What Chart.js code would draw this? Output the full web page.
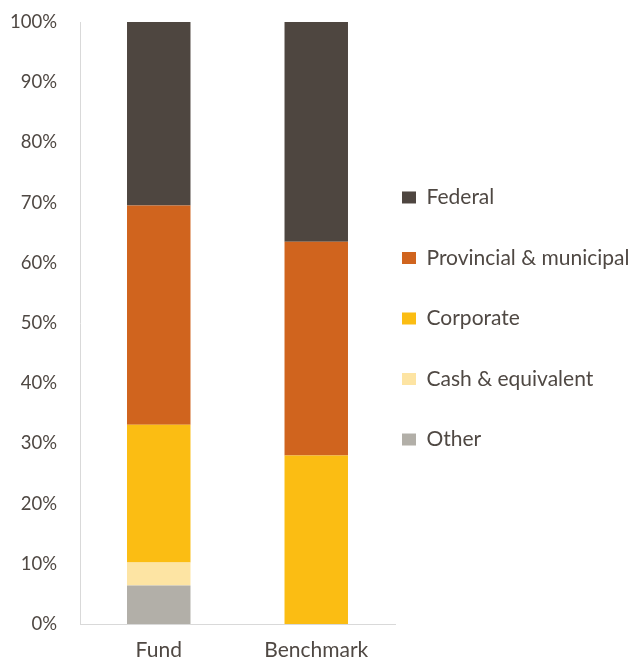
<!DOCTYPE html>
<html>
<head>
<meta charset="utf-8">
<script src="https://cdn.jsdelivr.net/npm/chart.js@4"></script>
<style>
  html, body { margin: 0; padding: 0; background: #fff; }
  #wrap { width: 630px; height: 661px; position: relative; }
</style>
</head>
<body>
<div id="wrap"><canvas id="chart"></canvas></div>
<script>
const categories = ["Fund", "Benchmark"];
const seriesNames = ["Other", "Cash & equivalent", "Corporate", "Provincial & municipal", "Federal"];
const otherValues = [6.4, 0];
const cashValues = [3.8, 0];
const corporateValues = [22.9, 28.0];
const provincialValues = [36.4, 35.5];
const federalValues = [30.5, 36.5];
const yTicks = [0, 10, 20, 30, 40, 50, 60, 70, 80, 90, 100];

const colors = ["#b2afa8", "#fde4a3", "#fbbd13", "#d0641e", "#4e4640"];
const textColor = "#4f4843";
const fontFamily = "Lato, 'Open Sans', sans-serif";

const values = [otherValues, cashValues, corporateValues, provincialValues, federalValues];

const datasets = seriesNames.map((name, i) => ({
  label: name,
  data: values[i],
  backgroundColor: colors[i],
  borderWidth: 0,
  barPercentage: 1,
  categoryPercentage: 0.403
}));

Chart.defaults.font.family = fontFamily;
Chart.defaults.color = textColor;

new Chart(document.getElementById("chart"), {
  type: "bar",
  data: { labels: categories, datasets },
  options: {
    responsive: true,
    maintainAspectRatio: false,
    animation: false,
    layout: { padding: { top: 0, left: 1, right: 0, bottom: 0 } },
    plugins: {
      tooltip: { enabled: false },
      legend: {
        position: "right",
        reverse: true,
        maxWidth: 235,
        title: { display: true, text: "", font: { size: 8.5, lineHeight: 1 }, padding: 0 },
        labels: {
          boxWidth: 14,
          boxHeight: 12,
          padding: 7,
          color: textColor,
          font: { size: 21, lineHeight: 2.548 },
          // array text so each entry takes a full line height
          generateLabels(chart) {
            const items = Chart.defaults.plugins.legend.labels.generateLabels(chart);
            items.forEach(it => { it.text = [it.text]; it.lineWidth = 0; });
            return items;
          }
        }
      }
    },
    scales: {
      x: {
        stacked: true,
        grid: { display: false, drawTicks: false },
        border: { display: true, color: "#d9d9d9", width: 1 },
        ticks: { padding: 14, font: { size: 21 }, color: textColor },
        afterFit(axis) { axis.height = 37; }
      },
      y: {
        stacked: true,
        min: 0,
        max: 100,
        afterBuildTicks(axis) { axis.ticks = yTicks.map(v => ({ value: v })); },
        grid: { display: false, drawTicks: false },
        border: { display: true, color: "#d9d9d9", width: 1 },
        ticks: { padding: 23, font: { size: 18.5 }, color: textColor, callback: v => v + "%" },
        afterFit(axis) {
          axis.width = 79;
          axis.paddingTop = 22;
          axis.paddingBottom = 0;
        }
      }
    }
  }
});
</script>
</body>
</html>
